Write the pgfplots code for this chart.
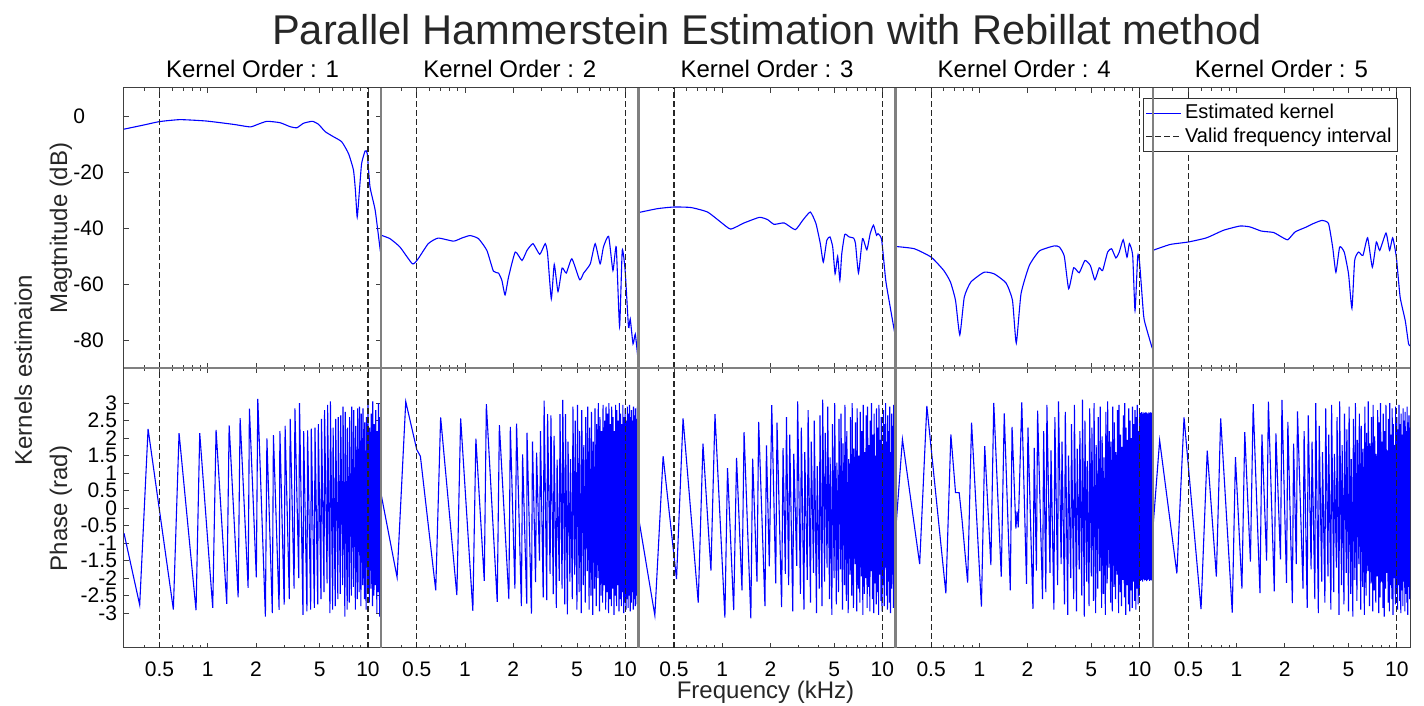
\documentclass[border=0pt]{standalone}
\usepackage{fontspec}
\setmainfont{Liberation Sans}
\usepackage{pgfplots}
\usepackage{pgfplotstable}
\pgfplotsset{compat=1.18}

% ---------------- magnitude (dB) ----------------
\pgfplotstableread{
x y
0.30 -4.7
0.40 -3.2
0.50 -2.0
0.672 -1.3
0.98 -1.8
1.45 -3.0
1.84 -3.9
2.05 -3.0
2.34 -1.9
2.83 -2.4
3.26 -3.8
3.60 -4.2
3.96 -2.6
4.50 -1.9
4.92 -3.0
5.41 -5.6
6.09 -7.4
6.86 -9.2
7.56 -13.4
8.12 -19.3
8.35 -26.5
8.57 -36.1
8.85 -26.5
9.13 -17.0
9.60 -12.5
9.90 -13.4
10.3 -25.3
11.1 -33.7
11.94 -48.0
12.1 -49.0
}\magA
\pgfplotstableread{
x y
0.30 -42.6
0.34 -43.8
0.393 -46.8
0.47 -52.8
0.51 -51.0
0.59 -45.6
0.68 -43.6
0.848 -44.7
0.955 -43.6
1.076 -42.7
1.214 -43.8
1.37 -48.0
1.505 -55.4
1.62 -56.1
1.70 -58.7
1.78 -63.9
1.87 -57.6
2.06 -48.6
2.27 -51.6
2.44 -48.0
2.66 -45.6
2.93 -49.4
3.17 -45.6
3.28 -49.2
3.46 -65.3
3.61 -53.0
3.81 -62.7
4.04 -54.3
4.29 -56.1
4.65 -51.0
5.20 -58.5
5.51 -56.1
6.06 -52.8
6.50 -45.6
6.98 -52.8
7.32 -46.8
7.89 -43.0
8.39 -55.2
8.80 -46.8
9.23 -75.2
9.59 -48.0
10.0 -55.2
10.5 -75.5
10.76 -72.5
11.2 -81.4
11.57 -77.9
11.97 -85.6
12.1 -86.0
}\magB
\pgfplotstableread{
x y
0.30 -34.5
0.394 -33.1
0.50 -32.5
0.64 -32.7
0.81 -34.3
0.98 -37.9
1.13 -40.4
1.37 -38.2
1.71 -36.2
1.92 -37.0
2.11 -38.7
2.44 -38.2
2.86 -40.6
3.18 -37.3
3.55 -34.3
3.85 -38.4
4.10 -45.6
4.28 -52.2
4.50 -44.4
4.71 -43.2
4.90 -46.8
5.07 -56.4
5.26 -50.1
5.43 -58.7
5.58 -49.2
5.83 -42.3
6.20 -43.2
6.62 -43.6
6.80 -45.6
7.10 -56.1
7.52 -43.8
8.00 -47.8
8.40 -42.0
8.80 -39.0
9.20 -42.6
9.40 -42.0
9.90 -44.2
10.5 -58.7
11.2 -68.3
12.0 -78.1
12.1 -79.0
}\magC
\pgfplotstableread{
x y
0.30 -46.6
0.392 -47.4
0.50 -50.4
0.60 -55.2
0.66 -59.3
0.71 -65.9
0.755 -78.2
0.805 -64.7
0.885 -59.3
1.07 -55.8
1.24 -56.4
1.47 -59.7
1.61 -65.9
1.70 -81.1
1.82 -63.5
2.05 -53.4
2.37 -48.2
2.93 -46.4
3.16 -46.8
3.39 -50.1
3.61 -61.7
3.88 -54.2
4.20 -56.0
4.56 -51.6
4.93 -53.4
5.26 -58.5
5.60 -54.2
5.88 -55.2
6.32 -48.6
6.69 -47.4
7.12 -50.7
7.47 -48.6
7.91 -44.2
8.35 -50.4
8.64 -45.6
9.06 -49.8
9.37 -69.5
9.74 -50.0
10.0 -52.2
10.6 -71.3
11.0 -75.5
11.95 -82.6
12.1 -83.0
}\magD
\pgfplotstableread{
x y
0.30 -48.0
0.384 -45.9
0.50 -45.0
0.65 -43.5
0.83 -40.8
1.05 -39.3
1.21 -39.6
1.43 -41.1
1.70 -41.6
1.91 -43.2
2.09 -44.2
2.32 -41.4
2.74 -39.6
3.02 -38.4
3.41 -37.3
3.75 -38.4
3.98 -46.8
4.17 -55.8
4.40 -46.8
4.70 -48.6
5.00 -56.4
5.25 -68.7
5.46 -51.6
5.78 -48.6
6.15 -49.8
6.58 -43.5
7.04 -54.0
7.46 -45.0
7.83 -48.0
8.57 -41.8
9.02 -48.0
9.43 -43.5
9.94 -50.4
10.5 -64.7
11.3 -73.1
11.85 -81.4
12.1 -82.0
}\magE

% ---------------- phase (rad) ----------------
\pgfplotstableread{
x y
0.30 -0.72
0.376 -2.77
0.424 2.26
0.61 -2.90
0.662 2.14
0.845 -2.92
0.891 2.14
1.074 -2.85
1.127 2.23
1.314 -2.74
1.36 2.36
1.548 -2.55
1.592 2.57
1.787 -2.28
1.82 2.84
2.01 -1.98
2.053 3.12
2.29 -3.10
2.34 1.99
2.53 -3.00
2.57 2.08
2.79 -2.91
2.82 2.20
3.00 -2.76
3.04 2.35
3.23 -2.60
3.27 2.55
3.46 -2.30
3.50 2.85
3.70 -2.00
3.74 3.00
3.93 -3.05
3.97 2.20
4.16 -2.95
4.20 2.22
4.39 -2.90
4.43 2.27
4.63 -2.85
4.67 2.30
4.86 -2.75
4.90 2.40
5.09 -2.60
5.13 2.55
5.32 -2.40
5.36 2.80
5.56 -2.15
5.60 2.95
5.79 -3.00
5.83 3.05
6.02 -2.90
6.06 2.30
6.25 -2.80
6.29 2.55
6.49 -2.60
6.53 2.60
6.72 -2.45
6.76 2.65
6.95 -2.20
6.99 2.90
7.18 -3.10
7.22 2.75
7.42 -2.90
7.46 2.30
7.65 -2.70
7.69 2.60
7.88 -2.50
7.92 2.90
8.11 -2.25
8.15 2.80
8.35 -2.90
8.39 2.35
8.58 -2.60
8.62 2.85
8.81 -2.40
8.85 2.90
9.04 -2.80
9.08 2.70
9.28 -2.20
9.32 2.85
9.51 -2.60
9.55 2.45
9.74 -2.90
9.78 2.60
9.97 -2.40
10.01 2.95
10.21 -2.70
10.25 2.30
10.44 -2.30
10.48 2.70
10.67 -2.80
10.71 3.05
10.90 -2.50
10.94 2.40
11.14 -2.20
11.18 2.80
11.37 -3.00
11.41 2.20
11.60 -2.40
11.64 3.00
11.83 -3.10
11.87 2.60
12.07 -2.60
12.11 2.30
}\phA
\pgfplotstableread{
x y
0.30 0.38
0.377 -1.98
0.427 3.04
0.50 1.67
0.527 1.48
0.657 -2.35
0.705 2.59
0.89 -2.49
0.94 2.56
1.12 -2.94
1.17 1.98
1.32 -2.08
1.36 2.97
1.59 -2.68
1.64 2.37
1.88 -2.60
1.92 2.32
2.05 -2.30
2.10 2.41
2.25 -2.80
2.29 1.53
2.43 -2.73
2.44 2.15
2.60 -3.02
2.64 1.90
2.76 -2.12
2.80 1.58
2.92 -1.50
2.96 2.20
3.08 -2.55
3.12 3.07
3.24 -2.63
3.28 2.68
3.40 -1.88
3.44 2.65
3.56 -2.46
3.60 2.06
3.72 -2.85
3.76 1.38
3.88 -2.08
3.92 2.68
4.04 -2.30
4.08 3.09
4.20 -2.75
4.24 2.68
4.36 -3.04
4.40 1.90
4.52 -2.10
4.56 1.40
4.68 -2.60
4.72 2.90
4.84 -1.90
4.88 2.50
5.00 -2.90
5.04 2.95
5.16 -2.40
5.20 2.20
5.32 -3.00
5.36 2.80
5.48 -2.20
5.52 1.80
5.64 -2.70
5.68 2.60
5.80 -1.80
5.84 2.90
5.96 -2.90
6.00 2.30
6.12 -2.50
6.16 2.75
6.28 -3.05
6.32 1.90
6.44 -2.30
6.48 2.85
6.60 -2.80
6.64 2.40
6.76 -2.00
6.80 3.00
6.92 -2.95
6.96 2.60
7.08 -2.50
7.12 2.20
7.24 -2.70
7.28 2.95
7.40 -2.20
7.44 2.50
7.56 -2.90
7.60 2.90
7.72 -2.40
7.76 2.70
7.88 -3.00
7.92 3.00
8.04 -2.60
8.08 2.40
8.20 -2.80
8.24 2.90
8.36 -2.30
8.40 2.60
8.52 -3.05
8.56 2.20
8.68 -2.50
8.72 2.95
8.84 -2.80
8.88 2.80
9.00 -2.20
9.04 2.50
9.16 -2.95
9.20 3.00
9.32 -2.60
9.36 2.70
9.48 -2.80
9.52 2.40
9.64 -2.40
9.68 2.95
9.80 -3.00
9.84 2.60
9.96 -2.70
10.00 2.85
10.12 -2.90
10.16 2.50
10.28 -2.60
10.32 2.90
10.44 -2.85
10.48 2.70
10.60 -2.50
10.64 2.95
10.76 -2.95
10.80 2.60
10.92 -2.70
10.96 2.80
11.08 -2.40
11.12 2.50
11.24 -2.90
11.28 2.90
11.40 -2.60
11.44 2.65
11.56 -2.80
11.60 2.85
11.72 -2.50
11.76 2.55
11.88 -2.75
11.92 2.90
12.04 -2.60
12.08 2.70
12.10 -0.30
}\phB
\pgfplotstableread{
x y
0.30 -0.25
0.38 -3.07
0.428 1.48
0.519 -2.03
0.57 2.56
0.709 -2.70
0.759 1.84
0.851 -1.79
0.902 2.68
1.04 -3.13
1.08 1.14
1.18 -2.92
1.23 1.43
1.33 -2.35
1.37 2.17
1.51 -3.15
1.55 1.41
1.65 -2.10
1.69 2.46
1.85 -2.80
1.89 1.79
1.97 -1.67
2.04 2.94
2.16 -2.15
2.20 2.44
2.35 -2.83
2.40 1.71
2.48 -1.88
2.52 2.60
2.60 -2.20
2.64 2.10
2.76 -2.95
2.80 1.55
2.92 -1.65
2.96 3.05
3.08 -2.45
3.12 2.30
3.24 -2.90
3.28 1.60
3.40 -2.05
3.44 2.80
3.56 -2.70
3.60 1.90
3.72 -1.85
3.76 2.50
3.88 -3.00
3.92 1.20
4.04 -2.30
4.08 2.65
4.20 -2.80
4.24 3.10
4.36 -2.10
4.40 2.15
4.52 -1.70
4.56 2.90
4.68 -2.60
4.72 1.45
4.84 -3.05
4.88 2.40
5.00 -2.00
5.04 3.00
5.16 -2.75
5.20 1.30
5.32 -2.40
5.36 2.55
5.48 -1.75
5.52 2.70
5.64 -2.90
5.68 1.85
5.80 -2.20
5.84 2.95
5.96 -2.65
6.00 2.20
6.12 -3.00
6.16 1.40
6.28 -1.90
6.32 2.60
6.44 -2.50
6.48 3.00
6.60 -2.85
6.64 1.70
6.76 -1.60
6.80 2.45
6.92 -2.95
6.96 2.85
7.08 -2.30
7.12 1.50
7.24 -2.70
7.28 2.75
7.40 -1.95
7.44 2.20
7.56 -3.05
7.60 2.95
7.72 -2.45
7.76 1.60
7.88 -2.00
7.92 2.65
8.04 -2.85
8.08 2.90
8.20 -2.25
8.24 1.80
8.36 -2.95
8.40 2.50
8.52 -1.80
8.56 3.00
8.68 -2.60
8.72 2.10
8.84 -3.00
8.88 2.70
9.00 -2.15
9.04 1.50
9.16 -2.75
9.20 2.85
9.32 -2.40
9.36 2.30
9.48 -3.05
9.52 2.95
9.64 -1.90
9.68 1.95
9.80 -2.65
9.84 2.60
9.96 -2.95
10.00 1.70
10.12 -2.20
10.16 2.80
10.28 -2.80
10.32 2.40
10.44 -1.70
10.48 3.00
10.60 -2.50
10.64 1.90
10.76 -2.90
10.80 2.65
10.92 -2.10
10.96 2.20
11.08 -2.70
11.12 2.90
11.24 -3.00
11.28 1.60
11.40 -2.30
11.44 2.70
11.56 -1.90
11.60 2.35
11.72 -2.85
11.76 2.95
11.88 -2.40
11.92 2.10
12.04 -2.75
12.08 2.50
12.10 -0.30
}\phC
\pgfplotstableread{
x y
0.30 -0.68
0.331 1.96
0.424 -1.60
0.47 2.92
0.618 -2.44
0.664 2.10
0.71 0.44
0.748 0.44
0.78 -0.35
0.845 -2.13
0.894 2.44
1.03 -2.82
1.08 1.77
1.18 -1.63
1.23 3.00
1.37 -1.96
1.43 2.70
1.56 -2.35
1.60 2.32
1.69 -0.59
1.72 -0.10
1.75 -0.55
1.84 3.02
1.97 -2.17
2.01 2.30
2.16 -2.88
2.20 1.72
2.27 -1.79
2.31 2.78
2.48 -2.60
2.52 2.20
2.60 -2.40
2.64 2.95
2.76 -1.85
2.80 1.65
2.92 -2.90
2.96 2.60
3.08 -2.20
3.12 3.05
3.24 -1.60
3.28 1.90
3.40 -2.75
3.44 2.75
3.56 -3.05
3.60 1.50
3.72 -2.00
3.76 2.40
3.88 -2.60
3.92 2.95
4.04 -2.95
4.08 1.70
4.20 -1.75
4.24 2.20
4.36 -2.50
4.40 3.10
4.52 -3.10
4.56 2.50
4.68 -2.10
4.72 1.35
4.84 -2.80
4.88 2.85
5.00 -1.95
5.04 2.30
5.16 -2.65
5.20 3.00
5.32 -3.00
5.36 1.80
5.48 -2.30
5.52 2.60
5.64 -1.80
5.68 2.90
5.80 -2.85
5.84 2.05
5.96 -2.45
6.00 1.45
6.12 -3.05
6.16 2.75
6.28 -2.15
6.32 3.05
6.44 -1.70
6.48 2.20
6.60 -2.70
6.64 1.90
6.76 -2.95
6.80 2.90
6.92 -2.25
6.96 2.45
7.08 -2.60
7.12 1.60
7.24 -1.90
7.28 2.80
7.40 -3.00
7.44 2.95
7.56 -2.40
7.60 2.10
7.72 -2.80
7.76 1.75
7.88 -2.05
7.92 2.65
8.04 -2.55
8.08 3.00
8.20 -3.05
8.24 2.30
8.36 -2.20
8.40 1.95
8.52 -2.75
8.56 2.85
8.68 -2.95
8.72 2.50
8.84 -2.35
8.88 2.00
9.00 -2.85
9.04 2.90
9.16 -2.10
9.20 2.40
9.32 -2.65
9.36 2.80
9.48 -2.90
9.52 2.60
9.64 -2.30
9.68 2.95
9.80 -2.75
9.84 2.20
9.96 -2.50
10.00 2.70
10.12 -2.08
10.16 2.72
10.28 -2.05
10.32 2.74
10.44 -2.10
10.48 2.70
10.60 -2.04
10.64 2.73
10.76 -2.07
10.80 2.71
10.92 -2.05
10.96 2.74
11.08 -2.09
11.12 2.72
11.24 -2.06
11.28 2.70
11.40 -2.04
11.44 2.73
11.56 -2.08
11.60 2.72
11.72 -2.05
11.76 2.74
11.88 -2.07
11.92 2.71
12.04 -2.06
12.08 2.72
12.10 -0.60
}\phD
\pgfplotstableread{
x y
0.30 -0.63
0.331 1.93
0.424 -1.87
0.47 2.59
0.60 -2.89
0.656 1.64
0.748 -1.96
0.796 2.56
0.94 -2.99
0.984 1.45
1.08 -2.30
1.125 2.17
1.22 -1.53
1.27 2.97
1.40 -2.43
1.44 2.10
1.54 -1.50
1.58 3.04
1.72 -2.38
1.76 2.13
1.88 -1.47
1.92 3.09
2.05 -2.14
2.09 2.46
2.23 -2.72
2.27 1.84
2.36 -1.60
2.40 2.76
2.60 -2.30
2.64 2.20
2.76 -2.85
2.80 2.65
2.92 -1.75
2.96 1.90
3.08 -2.60
3.12 3.00
3.24 -3.00
3.28 2.35
3.40 -2.10
3.44 1.60
3.56 -2.70
3.60 2.85
3.72 -1.95
3.76 2.10
3.88 -2.90
3.92 2.95
4.04 -2.40
4.08 1.55
4.20 -1.70
4.24 2.60
4.36 -3.05
4.40 3.05
4.52 -2.20
4.56 1.80
4.68 -2.75
4.72 2.70
4.84 -1.85
4.88 2.25
5.00 -2.95
5.04 2.90
5.16 -2.45
5.20 1.40
5.32 -3.10
5.36 2.55
5.48 -2.05
5.52 3.00
5.64 -2.65
5.68 1.95
5.80 -1.60
5.84 2.70
5.96 -2.90
6.00 2.35
6.12 -2.25
6.16 1.70
6.28 -3.05
6.32 2.90
6.44 -2.50
6.48 2.15
6.60 -1.80
6.64 3.05
6.76 -2.80
6.80 1.85
6.92 -2.15
6.96 2.60
7.08 -2.95
7.12 2.95
7.24 -2.35
7.28 2.05
7.40 -2.70
7.44 1.55
7.56 -1.95
7.60 2.80
7.72 -3.00
7.76 2.45
7.88 -2.55
7.92 3.00
8.04 -2.10
8.08 1.90
8.20 -2.85
8.24 2.70
8.36 -3.10
8.40 2.20
8.52 -2.30
8.56 2.95
8.68 -1.85
8.72 1.65
8.84 -2.70
8.88 2.55
9.00 -2.95
9.04 3.00
9.16 -2.20
9.20 2.10
9.32 -2.60
9.36 2.85
9.48 -3.05
9.52 2.40
9.64 -2.00
9.68 1.80
9.80 -2.75
9.84 2.90
9.96 -2.45
10.00 2.60
10.12 -2.90
10.16 2.25
10.28 -2.20
10.32 2.95
10.44 -2.65
10.48 2.40
10.60 -3.00
10.64 2.70
10.76 -2.35
10.80 2.10
10.92 -2.80
10.96 2.85
11.08 -2.10
11.12 2.50
11.24 -2.95
11.28 2.75
11.40 -2.45
11.44 2.20
11.56 -2.70
11.60 2.90
11.72 -3.05
11.76 2.45
11.88 -2.25
11.92 2.65
12.04 -2.60
12.08 2.30
}\phE

\pgfplotsset{
  hpanel/.style={scale only axis, width=128.6pt, height=140pt,
    xmin=0.3, xmax=12.1,
    xtick={0.5,1,2,5,10},
    minor xtick={0.4,0.6,0.7,0.8,0.9,3,4,6,7,8,9},
    tick align=inside, major tick length=2.5pt, minor tick length=1.5pt,
    tick style={black!75, line width=0.4pt},
    axis line style={black!75, line width=0.5pt},
    ticklabel style={font=\fontsize{10.5}{12}\selectfont},
    clip=true},
  hmag/.style={hpanel, ymin=-90, ymax=10, xticklabels={}, ytick=\empty},
  hpha/.style={hpanel, ymin=-4, ymax=4, xticklabels={0.5,1,2,5,10}, ytick=\empty,
    xticklabel style={yshift=-3.5pt}},
  hkern/.style={blue, line width=0.55pt},
  hkerns/.style={blue, line width=0.55pt, smooth, tension=0.3},
  hvalid/.style={black!85, line width=0.6pt, dash pattern=on 3pt off 1.5pt},
}

\begin{document}
\begin{tikzpicture}[x=1pt,y=1pt]
\path[use as bounding box] (0,0) rectangle (712,353);

% ---- top row: magnitude ----
\begin{semilogxaxis}[hmag, at={(62pt,169pt)}, anchor=south west,
  ytick={-80,-60,-40,-20,0}, yticklabels={-80,-60,-40,-20,0},
  yticklabel style={anchor=west, xshift=-25.5pt, inner sep=0pt}]
\addplot[hkerns] table {\magA};
\addplot[hvalid] coordinates {(0.5,-90) (0.5,10)};
\addplot[hvalid] coordinates {(10,-90) (10,10)};
\end{semilogxaxis}
\begin{semilogxaxis}[hmag, at={(190.6pt,169pt)}, anchor=south west]
\addplot[hkerns] table {\magB};
\addplot[hvalid] coordinates {(0.5,-90) (0.5,10)};
\addplot[hvalid] coordinates {(10,-90) (10,10)};
\end{semilogxaxis}
\begin{semilogxaxis}[hmag, at={(319.2pt,169pt)}, anchor=south west]
\addplot[hkerns] table {\magC};
\addplot[hvalid] coordinates {(0.5,-90) (0.5,10)};
\addplot[hvalid] coordinates {(10,-90) (10,10)};
\end{semilogxaxis}
\begin{semilogxaxis}[hmag, at={(447.8pt,169pt)}, anchor=south west]
\addplot[hkerns] table {\magD};
\addplot[hvalid] coordinates {(0.5,-90) (0.5,10)};
\addplot[hvalid] coordinates {(10,-90) (10,10)};
\end{semilogxaxis}
\begin{semilogxaxis}[hmag, at={(576.4pt,169pt)}, anchor=south west,
  legend style={at={(0.953,0.964)}, anchor=north east, draw=black!80, fill=white,
    font=\fontsize{10}{11}\selectfont, inner sep=1pt, row sep=-1pt},
  legend cell align=left]
\addplot[hkerns] table {\magE};
\addlegendentry{Estimated kernel}
\addplot[hvalid] coordinates {(0.5,-90) (0.5,10)};
\addlegendentry{Valid frequency interval}
\addplot[hvalid, forget plot] coordinates {(10,-90) (10,10)};
\end{semilogxaxis}

% ---- bottom row: phase ----
\begin{semilogxaxis}[hpha, at={(62pt,29pt)}, anchor=south west,
  ytick={-3,-2.5,-2,-1.5,-1,-0.5,0,0.5,1,1.5,2,2.5,3},
  yticklabels={-3,-2.5,-2,-1.5,-1,-0.5,0,0.5,1,1.5,2,2.5,3}]
\addplot[hkern] table {\phA};
\addplot[hvalid] coordinates {(0.5,-4) (0.5,4)};
\addplot[hvalid] coordinates {(10,-4) (10,4)};
\end{semilogxaxis}
\begin{semilogxaxis}[hpha, at={(190.6pt,29pt)}, anchor=south west]
\addplot[hkern] table {\phB};
\addplot[hvalid] coordinates {(0.5,-4) (0.5,4)};
\addplot[hvalid] coordinates {(10,-4) (10,4)};
\end{semilogxaxis}
\begin{semilogxaxis}[hpha, at={(319.2pt,29pt)}, anchor=south west]
\addplot[hkern] table {\phC};
\addplot[hvalid] coordinates {(0.5,-4) (0.5,4)};
\addplot[hvalid] coordinates {(10,-4) (10,4)};
\end{semilogxaxis}
\begin{semilogxaxis}[hpha, at={(447.8pt,29pt)}, anchor=south west]
\addplot[hkern] table {\phD};
\addplot[hvalid] coordinates {(0.5,-4) (0.5,4)};
\addplot[hvalid] coordinates {(10,-4) (10,4)};
\end{semilogxaxis}
\begin{semilogxaxis}[hpha, at={(576.4pt,29pt)}, anchor=south west]
\addplot[hkern] table {\phE};
\addplot[hvalid] coordinates {(0.5,-4) (0.5,4)};
\addplot[hvalid] coordinates {(10,-4) (10,4)};
\end{semilogxaxis}

% ---- panel separators ----
\foreach \xx in {190.6,319.2,447.8,576.4}
  \draw[black!50, line width=1.2pt] (\xx,29) -- (\xx,309);
\draw[black!50, line width=1.2pt] (62,169) -- (705,169);

% ---- texts ----
\node[anchor=base, font=\fontsize{20.8}{24}\selectfont, text=black!85] at (383.5,330.5) {Parallel Hammerstein Estimation with Rebillat method};
\foreach \cx/\k in {126.3/1,254.9/2,383.5/3,512.1/4,640.7/5}
  \node[anchor=base, font=\fontsize{12}{14}\selectfont] at (\cx,314) {Kernel Order : \k};
\node[rotate=90, anchor=base, font=\fontsize{12}{14}\selectfont, text=black!85] at (33.5,239) {Magtnitude (dB)};
\node[rotate=90, anchor=base, font=\fontsize{12}{14}\selectfont, text=black!85] at (33.5,98.75) {Phase (rad)};
\node[rotate=90, anchor=base, font=\fontsize{12}{14}\selectfont, text=black!85] at (16,168) {Kernels estimaion};
\node[anchor=base, font=\fontsize{12}{14}\selectfont, text=black!85] at (382.75,3.5) {Frequency (kHz)};
\end{tikzpicture}
\end{document}
